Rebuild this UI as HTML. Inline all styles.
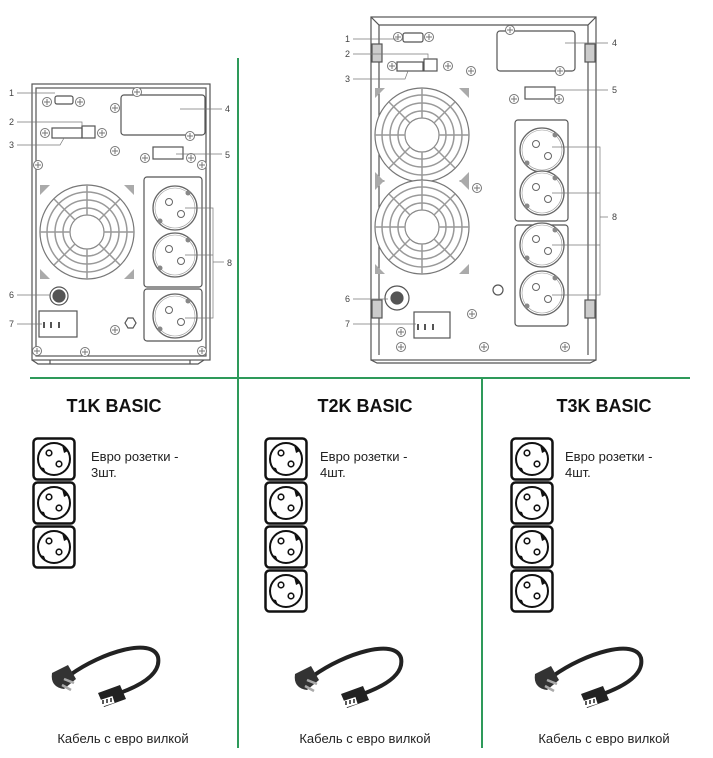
<!DOCTYPE html>
<html><head><meta charset="utf-8"><style>
body{margin:0;background:#fff;}
svg{display:block;font-family:"Liberation Sans",sans-serif;}
</style></head><body>
<svg width="713" height="758" viewBox="0 0 713 758" xmlns="http://www.w3.org/2000/svg">
<defs>
<g id="scr"><circle r="4.5" fill="#fff" stroke="#777" stroke-width="1"/><path d="M-3 0H3M0-3V3" stroke="#777" stroke-width="1"/></g>
<g id="sock"><circle r="22" fill="#fff" stroke="#666" stroke-width="1.3"/><circle r="20" fill="none" stroke="#999" stroke-width="0.6"/><circle cx="-6" cy="-6" r="3.5" fill="#fff" stroke="#666"/><circle cx="6" cy="6" r="3.5" fill="#fff" stroke="#666"/><circle cx="13" cy="-15" r="2.5" fill="#888"/><circle cx="-15" cy="13" r="2.5" fill="#888"/></g>
<g id="fan"><circle r="47" fill="#fff" stroke="#777" stroke-width="1.2"/><circle r="40" fill="none" stroke="#999" stroke-width="1.5"/><circle r="32" fill="none" stroke="#999" stroke-width="1.5"/><circle r="24" fill="none" stroke="#999" stroke-width="1.5"/><circle r="17" fill="#fff" stroke="#888" stroke-width="1.2"/><path d="M0-47V-17M0 17V47M-47 0H-17M17 0H47M-33-33L-12-12M12 12L33 33M33-33L12-12M-12 12L-33 33" stroke="#999" stroke-width="1.5"/><path d="M-47-47l10 0-10 10zM47-47l-10 0 10 10zM-47 47l10 0-10-10zM47 47l-10 0 10-10z" fill="#aaa"/></g>
<g id="icon"><rect x="1.5" y="1.5" width="41" height="41" rx="4" fill="#fff" stroke="#111" stroke-width="2.5"/><circle cx="22" cy="22" r="16" fill="none" stroke="#111" stroke-width="2"/><circle cx="17" cy="16" r="2.8" fill="none" stroke="#111" stroke-width="1.6"/><circle cx="27" cy="27" r="2.8" fill="none" stroke="#111" stroke-width="1.6"/><path d="M30 8l6 6-4 2z M8 30l6 6-2-5z" fill="#111"/></g>
<g id="cable"><path d="M8 -2 C40 -25 90 -40 96 -20 C100 0 70 12 52 18" fill="none" stroke="#222" stroke-width="4"/><path d="M-10 -4 L6 -12 L14 2 L2 12 Q-12 10 -10 -4z" fill="#333"/><path d="M2 2l10 4M0 8l9 5" stroke="#aaa" stroke-width="2.5"/><path d="M36 16 L58 8 L64 22 L42 30z" fill="#222"/><rect x="38" y="21" width="14" height="7" fill="#fff" transform="rotate(-18 45 25)"/><path d="M41 23v4M45 22v4M49 21v4" stroke="#222" stroke-width="1.5"/></g>
</defs>

<g stroke="#2e9a5a" stroke-width="2">
<line x1="238" y1="58" x2="238" y2="748"/>
<line x1="30" y1="378" x2="690" y2="378"/>
<line x1="482" y1="378" x2="482" y2="748"/>
</g>

<!-- LEFT UNIT -->
<g stroke="#555" fill="none" stroke-width="1.2">
<rect x="32" y="84" width="178" height="276" fill="#fff"/>
<rect x="36" y="88" width="170" height="268"/>
<path d="M32 360 l6 4 h160 l6-4 M50 364 v-4 M190 364 v-4"/>
<rect x="121" y="95" width="84" height="40" rx="3"/>
<rect x="55" y="96" width="18" height="8" rx="2"/>
<rect x="52" y="128" width="30" height="10"/><rect x="82" y="126" width="13" height="12"/>
<rect x="153" y="147" width="30" height="12"/>
<rect x="144" y="177" width="58" height="110" rx="3"/>
<rect x="144" y="289" width="58" height="52" rx="3"/>
<rect x="39" y="311" width="38" height="26"/>
<circle cx="59" cy="296" r="9"/><circle cx="59" cy="296" r="6" fill="#555"/>
<path d="M128 318l5 0 3 5-3 5h-5l-3-5z"/>
</g>
<use href="#fan" x="87" y="232"/>
<use href="#sock" x="175" y="208"/><use href="#sock" x="175" y="255"/><use href="#sock" x="175" y="316"/>
<use href="#scr" x="47" y="102"/><use href="#scr" x="80" y="102"/><use href="#scr" x="137" y="92"/><use href="#scr" x="115" y="108"/><use href="#scr" x="190" y="136"/>
<use href="#scr" x="45" y="133"/><use href="#scr" x="102" y="133"/><use href="#scr" x="115" y="151"/><use href="#scr" x="145" y="158"/><use href="#scr" x="191" y="158"/>
<use href="#scr" x="38" y="165"/><use href="#scr" x="202" y="165"/><use href="#scr" x="85" y="352"/><use href="#scr" x="115" y="330"/><use href="#scr" x="37" y="351"/><use href="#scr" x="202" y="351"/>
<path d="M44 328v-6M51 328v-6M59 328v-6" stroke="#555" stroke-width="2"/>
<g font-size="9" fill="#444">
<text x="9" y="96">1</text><text x="9" y="125">2</text><text x="9" y="148">3</text><text x="225" y="112">4</text><text x="225" y="158">5</text><text x="9" y="298">6</text><text x="9" y="327">7</text><text x="227" y="266">8</text>
</g>
<g stroke="#777" stroke-width="0.7" fill="none">
<path d="M17 93H55M17 122H82v4M17 145H60l4-7M180 109H222M176 154H222M17 295H50M17 324H42"/>
<path d="M185 208H213V318H185M185 255H213M213 262H224"/>
</g>

<!-- RIGHT UNIT -->
<g stroke="#555" fill="none" stroke-width="1.2">
<rect x="371" y="17" width="225" height="343" fill="#fff"/>
<path d="M371 17l8 8h209l8-8M379 25V355M588 25V355"/>
<path d="M371 360 l6 3 h213 l6-3"/>
<rect x="497" y="31" width="78" height="40" rx="3"/>
<rect x="403" y="33" width="20" height="9" rx="2"/>
<rect x="397" y="62" width="26" height="9"/><rect x="424" y="59" width="13" height="12"/>
<rect x="525" y="87" width="30" height="12"/>
<rect x="515" y="120" width="53" height="101" rx="3"/>
<rect x="515" y="225" width="53" height="101" rx="3"/>
<rect x="414" y="312" width="36" height="26"/>
<circle cx="397" cy="298" r="12"/><circle cx="397" cy="298" r="6" fill="#555"/>
<circle cx="498" cy="290" r="5"/>
<rect x="372" y="44" width="10" height="18" fill="#ccc"/><rect x="585" y="44" width="10" height="18" fill="#ccc"/>
<rect x="372" y="300" width="10" height="18" fill="#ccc"/><rect x="585" y="300" width="10" height="18" fill="#ccc"/>
</g>
<use href="#fan" x="422" y="135"/><use href="#fan" x="422" y="227"/>
<use href="#sock" x="542" y="150"/><use href="#sock" x="542" y="193"/><use href="#sock" x="542" y="245"/><use href="#sock" x="542" y="293"/>
<use href="#scr" x="398" y="37"/><use href="#scr" x="429" y="37"/><use href="#scr" x="510" y="30"/><use href="#scr" x="560" y="71"/>
<use href="#scr" x="392" y="66"/><use href="#scr" x="448" y="66"/><use href="#scr" x="471" y="71"/><use href="#scr" x="514" y="99"/><use href="#scr" x="559" y="99"/>
<use href="#scr" x="477" y="188"/><use href="#scr" x="472" y="314"/><use href="#scr" x="401" y="332"/><use href="#scr" x="401" y="347"/><use href="#scr" x="565" y="347"/><use href="#scr" x="484" y="347"/>
<path d="M418 330v-6M425 330v-6M433 330v-6" stroke="#555" stroke-width="2"/>
<g font-size="9" fill="#444">
<text x="345" y="42">1</text><text x="345" y="57">2</text><text x="345" y="82">3</text><text x="612" y="46">4</text><text x="612" y="93">5</text><text x="345" y="302">6</text><text x="345" y="327">7</text><text x="612" y="220">8</text>
</g>
<g stroke="#777" stroke-width="0.7" fill="none">
<path d="M353 39H398M353 54H428v5M353 79H405l3-8M565 43H608M555 90H608M353 299H388M353 324H416"/>
<path d="M552 147H600V295H552M552 193H600M552 245H600M600 217H608"/>
</g>

<g font-weight="bold" font-size="18" fill="#111" text-anchor="middle">
<text x="114" y="412">T1K BASIC</text>
<text x="365" y="412">T2K BASIC</text>
<text x="604" y="412">T3K BASIC</text>
</g>

<use href="#icon" x="32" y="437"/><use href="#icon" x="32" y="481"/><use href="#icon" x="32" y="525"/>
<use href="#icon" x="264" y="437"/><use href="#icon" x="264" y="481"/><use href="#icon" x="264" y="525"/><use href="#icon" x="264" y="569"/>
<use href="#icon" x="510" y="437"/><use href="#icon" x="510" y="481"/><use href="#icon" x="510" y="525"/><use href="#icon" x="510" y="569"/>

<g font-size="13" fill="#222">
<text x="91" y="461">Евро розетки -</text><text x="91" y="477">3шт.</text>
<text x="320" y="461">Евро розетки -</text><text x="320" y="477">4шт.</text>
<text x="565" y="461">Евро розетки -</text><text x="565" y="477">4шт.</text>
</g>

<use href="#cable" x="62" y="677"/>
<use href="#cable" x="305" y="678"/>
<use href="#cable" x="545" y="678"/>

<g font-size="13" fill="#222" text-anchor="middle">
<text x="123" y="743">Кабель с евро вилкой</text>
<text x="365" y="743">Кабель с евро вилкой</text>
<text x="604" y="743">Кабель с евро вилкой</text>
</g>
</svg>
</body></html>
